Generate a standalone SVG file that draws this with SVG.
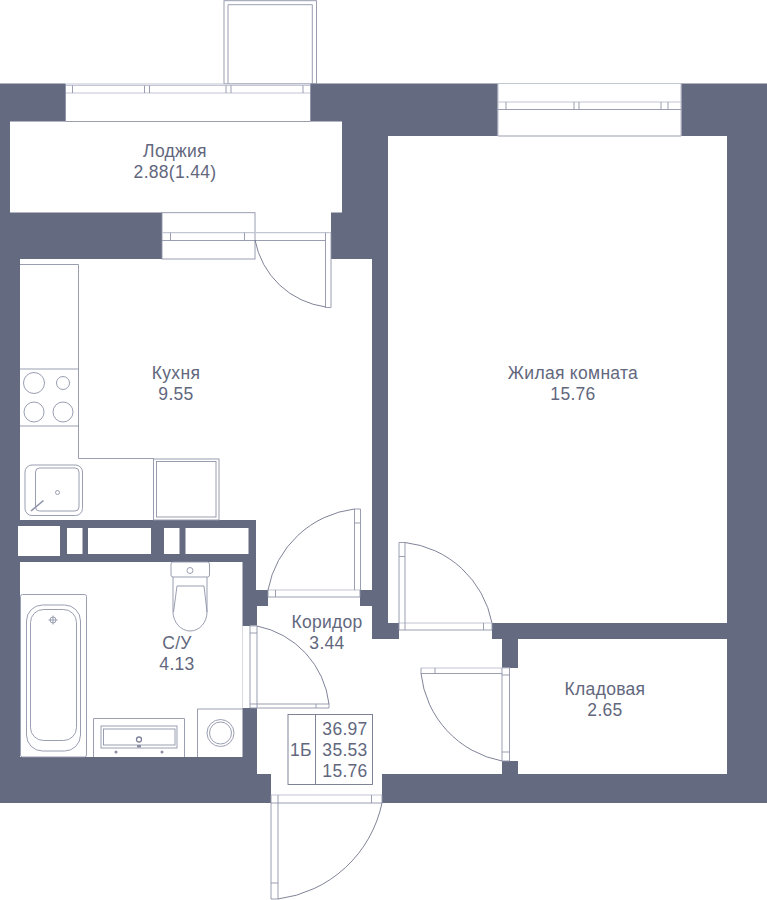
<svg xmlns="http://www.w3.org/2000/svg" width="767" height="900" viewBox="0 0 767 900">
<style>
.w{fill:#646a7f}
.o{fill:#fff}
.l{fill:none;stroke:#8f93a8;stroke-width:.9}
.g{fill:none;stroke:#c3c6d3;stroke-width:1.2}
.a{fill:none;stroke:#71758d;stroke-width:.9}
text{font-family:"Liberation Sans",Arial,sans-serif;font-size:17.500px;letter-spacing:.3px;fill:#62677d;text-anchor:middle}
</style>
<rect width="767" height="900" fill="#fff"/>
<g id="walls">
<rect class="w" x="0" y="83.500" width="767" height="719.500"/>
</g>
<g id="rooms">
<rect class="o" x="65.500" y="83" width="245" height="39"/>
<rect class="o" x="498" y="83" width="183" height="54"/>
<rect class="o" x="10" y="121.500" width="332" height="91"/>
<rect class="o" x="162" y="212" width="169" height="48"/>
<path class="o" d="M20 259H372V590H360V606H268V590H256V520H20Z"/>
<rect class="o" x="268" y="588" width="92" height="9"/>
<rect class="o" x="388" y="136" width="339" height="487"/>
<rect class="o" x="518" y="639" width="209" height="135"/>
<rect class="o" x="20" y="562" width="222.500" height="195"/>
<path class="o" d="M257 606H372V639H399V623H492V639H502V668H518V761H502V774H257Z"/>
<rect class="o" x="242.500" y="626" width="15" height="82"/>
<rect class="o" x="271" y="774" width="111" height="29.500"/>
<rect class="o" x="0" y="803" width="767" height="97"/>
<rect class="o" x="18" y="526" width="42" height="30"/>
<rect class="o" x="67" y="528" width="15.500" height="26"/>
<rect class="o" x="88" y="528" width="63" height="26"/>
<rect class="o" x="164" y="528" width="15.500" height="26"/>
<rect class="o" x="185.500" y="528" width="63" height="26"/>
</g>
<g id="balcony-window">
<rect class="l" x="224" y="0.700" width="92.500" height="83"/>
<path class="l" d="M228 84V4.700H312.300V84"/>
<path class="g" d="M65.500 84H310.500"/>
<path class="g" d="M65.500 85.500H310.500M65.500 93H310.500"/>
<path class="l" d="M65.500 84V121.500M310.500 84V121.500M72.500 85.500V93M144.500 85.500V93M149.500 85.500V93M226 85.500V93M231 85.500V93M303 85.500V93M65.500 121.500H310.500"/>
</g>
<g id="living-window">
<path class="g" d="M498 83.500H681M498 102H681M498 84V136M681 84V136"/>
<path class="l" d="M498 136H681M498 109.500H681M506 102V109.500M574 102V109.500M579 102V109.500M661 102V109.500M668 102V109.500"/>
</g>
<g id="loggia-door">
<rect class="l" x="162" y="212.700" width="93" height="46.300"/>
<path class="g" d="M162 232.700H331"/>
<path class="l" d="M162 240.500H325.500M170.500 232.700V240.500M244.500 232.700V240.500M325.500 232.700V307.500H331V232.700"/>
<path class="a" d="M255 240A83 83 0 0 0 326 307"/>
</g>
<g id="kitchen-door">
<path class="g" d="M268 590H360"/>
<path class="l" d="M268 597H360V590M268 590V597M275.500 590V597M354.500 590V509H360.500V590M354.500 523H360.500"/>
<path class="a" d="M268 590A100 100 0 0 1 354.500 509"/>
</g>
<g id="living-door">
<path class="g" d="M399 623H492"/>
<path class="l" d="M399 630H492V623M399 623V630M405 630V542.500H399V623M399 556.500H405M483.500 623V630"/>
<path class="a" d="M405 542.500A100 100 0 0 1 492 623"/>
</g>
<g id="bath-door">
<path class="g" d="M250 626H257"/>
<path class="l" d="M250 626V708H329V704H250M257 626V708M250 633H257M316 704V708"/>
<path class="a" d="M257 626A90 90 0 0 1 329 704"/>
</g>
<g id="storage-door">
<path class="g" d="M421 668H510"/>
<path class="l" d="M421 668V673.500H502M435 668V673.500M502 668V761H509.500V668M502 675H509.500M502 752H509.500"/>
<path class="a" d="M421 673.500A100 100 0 0 0 502 761"/>
</g>
<g id="entry-door">
<path class="g" d="M271 795H382"/>
<path class="l" d="M271 803H382V795M278 795V803M371.500 795V803M271 795V899H278V803M271 883H278"/>
<path class="a" d="M382 803A122 122 0 0 1 278 899"/>
</g>
<g id="kitchen-fixtures">
<path class="l" d="M20 264.500H78.500V458.500H154M20 369H78.500M20 426H78.500"/>
<circle class="l" cx="34" cy="383" r="10.500"/>
<circle class="l" cx="63" cy="383" r="6.500"/>
<circle class="l" cx="34" cy="412" r="10"/>
<circle class="l" cx="63" cy="412" r="10"/>
<rect class="l" x="25" y="465" width="57.500" height="50.500" rx="7"/>
<rect class="l" x="35.500" y="468" width="43.500" height="43" rx="4"/>
<circle class="l" cx="57.500" cy="492.500" r="2"/>
<path d="M31 511L43.500 500.500" stroke="#8f93a8" stroke-width="1.600" fill="none"/>
<rect class="l" x="153.500" y="459" width="65.500" height="61"/>
<rect class="l" x="156.500" y="461.500" width="59.500" height="55.500"/>
</g>
<g id="bath-fixtures">
<rect class="l" x="171" y="562" width="38.500" height="15" rx="2"/>
<circle class="l" cx="190" cy="570.500" r="3"/>
<path class="l" d="M173 577V612C173 622 181 631 190 631C200 631 207 622 207 612V577"/>
<path class="l" d="M173.500 612L177 586H204L207 612"/>
<rect class="l" x="20.500" y="594.500" width="66" height="162.500" rx="2"/>
<rect class="l" x="26.500" y="605" width="54" height="146" rx="16"/>
<rect class="l" x="30.500" y="609.500" width="46" height="131" rx="13"/>
<circle class="l" cx="53" cy="620" r="3"/>
<path class="l" d="M48.500 620H57.500M53 615.500V624.500"/>
<path class="l" d="M93.500 757V718.500H184.500V757"/>
<rect class="l" x="101" y="726" width="76" height="22"/>
<rect class="l" x="103.500" y="729" width="71.500" height="16"/>
<circle cx="139" cy="739.500" r="2.500" fill="none" stroke="#7f8399" stroke-width="1.300"/>
<rect x="137" y="745" width="4" height="2.500" fill="#8a8ea2"/>
<circle cx="116" cy="752" r="1.500" fill="#8a8ea2"/>
<circle cx="162" cy="752" r="1.500" fill="#8a8ea2"/>
<path class="l" d="M197.500 757V709H243"/>
<circle class="l" cx="220.500" cy="733" r="13.500"/>
<circle class="l" cx="220.500" cy="733" r="11"/>
</g>
<g id="info">
<rect class="l" x="288" y="714.500" width="84.500" height="70" style="stroke:#71758d"/>
<path class="l" d="M315.500 714.500V784.500" style="stroke:#71758d"/>
<text x="301" y="756">1Б</text>
<text x="345" y="734.500">36.97</text>
<text x="345" y="756">35.53</text>
<text x="345" y="777">15.76</text>
</g>
<g id="labels">
<text x="175" y="156.500">Лоджия</text>
<text x="175" y="177.500">2.88(1.44)</text>
<text x="176" y="378.500">Кухня</text>
<text x="176" y="399.500">9.55</text>
<text x="573" y="378.500">Жилая комната</text>
<text x="573" y="399.500">15.76</text>
<text x="177" y="648.500">С/У</text>
<text x="177" y="669.500">4.13</text>
<text x="327" y="627.500">Коридор</text>
<text x="327" y="648.500">3.44</text>
<text x="605" y="694.500">Кладовая</text>
<text x="605" y="715.500">2.65</text>
</g>
</svg>
